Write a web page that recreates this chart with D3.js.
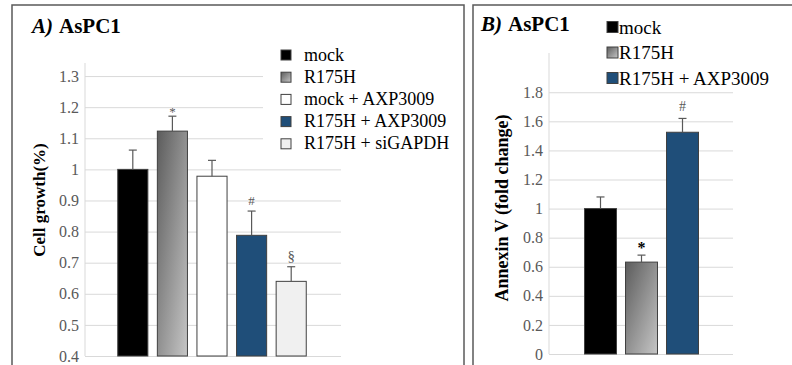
<!DOCTYPE html>
<html lang="en">
<head>
<meta charset="utf-8">
<title>AsPC1</title>
<script src="https://d3js.org/d3.v7.min.js"></script>
<style>
  body { margin: 0; background: #fff; }
  text { font-family: "Liberation Serif", "Times New Roman", serif; }
</style>
</head>
<body>
<div id="chart"></div>
<script>
// panel A: cell growth
const groupsA = ["mock", "R175H", "mock + AXP3009", "R175H + AXP3009", "R175H + siGAPDH"];
const growthA = [1.0, 1.123, 0.978, 0.788, 0.64];
const growthErrA = [0.062, 0.048, 0.051, 0.078, 0.047];
const marksA = ["", "*", "", "#", "§"];
const ticksA = [0.4, 0.5, 0.6, 0.7, 0.8, 0.9, 1, 1.1, 1.2, 1.3];

// panel B: annexin V
const groupsB = ["mock", "R175H", "R175H + AXP3009"];
const annexinB = [1.0, 0.632, 1.525];
const annexinErrB = [0.08, 0.048, 0.095];
const marksB = ["", "*", "#"];
const ticksB = [0, 0.2, 0.4, 0.6, 0.8, 1, 1.2, 1.4, 1.6, 1.8];

const fills = {
  "mock": "#000000",
  "R175H": "url(#grad)",
  "mock + AXP3009": "#ffffff",
  "R175H + AXP3009": "#1f4e79",
  "R175H + siGAPDH": "#f0f0f0"
};

const W = 792, H = 365;
const svg = d3.select("#chart").append("svg")
  .attr("width", W).attr("height", H);

const defs = svg.append("defs");
const grad = defs.append("linearGradient").attr("id", "grad")
  .attr("x1", 0).attr("y1", 0).attr("x2", 1).attr("y2", 1);
grad.append("stop").attr("offset", "0%").attr("stop-color", "#5c5c5c");
grad.append("stop").attr("offset", "100%").attr("stop-color", "#c6c6c6");

// panel frames
svg.append("rect").attr("x", 12).attr("y", 5).attr("width", 452).attr("height", 400)
  .attr("fill", "none").attr("stroke", "#5a5a5a").attr("stroke-width", 1.5);
svg.append("rect").attr("x", 473).attr("y", 5).attr("width", 340).attr("height", 400)
  .attr("fill", "none").attr("stroke", "#5a5a5a").attr("stroke-width", 1.5);

function panel(o) {
  const g = svg.append("g");
  const x = d3.scaleBand().domain(o.groups).range(o.xr)
    .paddingInner(o.pad).paddingOuter(o.pad / 2);
  const y = d3.scaleLinear().domain(o.dom).range(o.yr);

  // gridlines + tick labels
  const ax = g.append("g")
    .attr("transform", `translate(${o.left},0)`)
    .call(d3.axisLeft(y).tickValues(o.ticks).tickFormat(d => d)
      .tickSize(-(o.right - o.left)).tickPadding(6));
  ax.attr("font-family", null);
  ax.select(".domain").remove();
  ax.selectAll(".tick line").attr("stroke", "#d9d9d9").attr("stroke-width", 1);
  ax.selectAll(".tick text").attr("fill", "#595959")
    .style("font-size", "16px");

  // vertical axis line
  g.append("line").attr("x1", o.left).attr("x2", o.left)
    .attr("y1", o.yr[1]).attr("y2", o.yr[0])
    .attr("stroke", "#d9d9d9");

  return { g, x, y };
}

// ---------- panel A ----------
const A = panel({
  groups: groupsA, xr: [113, 311], pad: 0.24,
  dom: [0.4, 1.342], yr: [356, 63], ticks: ticksA, left: 85, right: 341
});

// legend box covers upper gridlines
A.g.append("rect").attr("x", 263).attr("y", 40).attr("width", 195).attr("height", 112)
  .attr("fill", "#fff");

A.g.selectAll("rect.bar").data(groupsA).join("rect").attr("class", "bar")
  .attr("x", d => A.x(d))
  .attr("width", A.x.bandwidth())
  .attr("y", (d, i) => A.y(growthA[i]))
  .attr("height", (d, i) => A.y(0.4) - A.y(growthA[i]))
  .attr("fill", d => fills[d])
  .attr("stroke", "#404040").attr("stroke-width", 1);

A.g.selectAll("g.err").data(groupsA).join("g").attr("class", "err")
  .each(function (d, i) {
    const cx = A.x(d) + A.x.bandwidth() / 2;
    const y0 = A.y(growthA[i]), y1 = A.y(growthA[i] + growthErrA[i]);
    const e = d3.select(this);
    e.append("line").attr("x1", cx).attr("x2", cx).attr("y1", y0).attr("y2", y1)
      .attr("stroke", "#595959").attr("stroke-width", 1.2);
    e.append("line").attr("x1", cx - 4).attr("x2", cx + 4).attr("y1", y1).attr("y2", y1)
      .attr("stroke", "#595959").attr("stroke-width", 1.2);
  });

A.g.selectAll("text.mark").data(groupsA).join("text").attr("class", "mark")
  .attr("x", d => A.x(d) + A.x.bandwidth() / 2)
  .attr("y", (d, i) => A.y(growthA[i] + growthErrA[i]) - (marksA[i] === "*" ? 0 : 6))
  .attr("text-anchor", "middle")
  .attr("fill", "#595959")
  .style("font-size", (d, i) => marksA[i] === "§" ? "15px" : "13px")
  .text((d, i) => marksA[i]);

// legend A
const legA = A.g.selectAll("g.leg").data(groupsA).join("g").attr("class", "leg")
  .attr("transform", (d, i) => `translate(281,${55 + i * 22.2})`);
legA.append("rect").attr("x", 0).attr("y", -5).attr("width", 10).attr("height", 10)
  .attr("fill", d => fills[d]).attr("stroke", "#404040").attr("stroke-width", 1);
legA.append("text").attr("x", 23).attr("y", 5.5)
  .style("font-size", "18px").attr("fill", "#000").text(d => d);

// title + y label A
const tA = svg.append("text").attr("x", 32).attr("y", 33)
  .style("font-size", "21px").style("font-weight", "bold");
tA.append("tspan").style("font-style", "italic").text("A)");
tA.append("tspan").attr("dx", 6).text("AsPC1");

svg.append("text")
  .attr("transform", "translate(45,200) rotate(-90)")
  .attr("text-anchor", "middle")
  .style("font-size", "17px").style("font-weight", "bold")
  .text("Cell growth(%)");

// ---------- panel B ----------
const B = panel({
  groups: groupsB, xr: [580, 703], pad: 0.22,
  dom: [0, 2.07], yr: [354, 53], ticks: ticksB, left: 549, right: 733
});

B.g.selectAll("rect.bar").data(groupsB).join("rect").attr("class", "bar")
  .attr("x", d => B.x(d))
  .attr("width", B.x.bandwidth())
  .attr("y", (d, i) => B.y(annexinB[i]))
  .attr("height", (d, i) => B.y(0) - B.y(annexinB[i]))
  .attr("fill", d => fills[d])
  .attr("stroke", "#404040").attr("stroke-width", 1);

B.g.selectAll("g.err").data(groupsB).join("g").attr("class", "err")
  .each(function (d, i) {
    const cx = B.x(d) + B.x.bandwidth() / 2;
    const y0 = B.y(annexinB[i]), y1 = B.y(annexinB[i] + annexinErrB[i]);
    const e = d3.select(this);
    e.append("line").attr("x1", cx).attr("x2", cx).attr("y1", y0).attr("y2", y1)
      .attr("stroke", "#595959").attr("stroke-width", 1.2);
    e.append("line").attr("x1", cx - 4).attr("x2", cx + 4).attr("y1", y1).attr("y2", y1)
      .attr("stroke", "#595959").attr("stroke-width", 1.2);
  });

B.g.selectAll("text.mark").data(groupsB).join("text").attr("class", "mark")
  .attr("x", d => B.x(d) + B.x.bandwidth() / 2)
  .attr("y", (d, i) => B.y(annexinB[i] + annexinErrB[i]) - (marksB[i] === "*" ? 2 : 7))
  .attr("text-anchor", "middle")
  .attr("fill", (d, i) => marksB[i] === "*" ? "#000" : "#595959")
  .style("font-size", (d, i) => marksB[i] === "*" ? "16px" : "14px")
  .style("font-weight", (d, i) => marksB[i] === "*" ? "bold" : "normal")
  .text((d, i) => marksB[i]);

// legend B
const legB = B.g.selectAll("g.leg").data(groupsB).join("g").attr("class", "leg")
  .attr("transform", (d, i) => `translate(607,${27 + i * 25.5})`);
legB.append("rect").attr("x", 0).attr("y", -5.5).attr("width", 11).attr("height", 11)
  .attr("fill", d => fills[d]).attr("stroke", "#404040").attr("stroke-width", 1);
legB.append("text").attr("x", 12).attr("y", 6.5)
  .style("font-size", "19px").attr("fill", "#000").text(d => d);

const tB = svg.append("text").attr("x", 481).attr("y", 31)
  .style("font-size", "21px").style("font-weight", "bold");
tB.append("tspan").style("font-style", "italic").text("B)");
tB.append("tspan").attr("dx", 6).text("AsPC1");

svg.append("text")
  .attr("transform", "translate(508,208) rotate(-90)")
  .attr("text-anchor", "middle")
  .style("font-size", "18px").style("font-weight", "bold")
  .text("Annexin V (fold change)");
</script>
</body>
</html>
